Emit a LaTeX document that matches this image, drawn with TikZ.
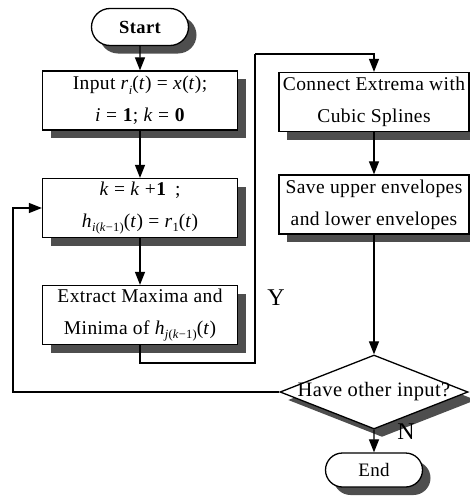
\documentclass[tikz,border=0pt]{standalone}
\usepackage{fontspec}
\setmainfont{Liberation Serif}[LetterSpace=2]
\usetikzlibrary{shapes.geometric,shapes.misc,shadows,arrows.meta}

\definecolor{shade}{RGB}{78,78,78}
\newcommand{\vi}[1]{\textit{#1}}
\newcommand{\sub}[1]{\raisebox{-0.5ex}{\fontsize{12.5}{12.5}\selectfont #1}}

\tikzset{
  shadowed/.style={drop shadow={shadow xshift=8pt, shadow yshift=-8pt, fill=shade, opacity=1}},
  procbox/.style={draw, line width=1.3pt, fill=white, shadowed, rectangle,
    minimum width=195pt, minimum height=59pt, inner sep=0pt, align=center,
    font=\fontsize{19.5}{32}\selectfont},
  termbox/.style={draw, line width=1.3pt, fill=white, shadowed, rounded rectangle,
    minimum width=97pt, minimum height=37pt, inner sep=0pt},
  decbox/.style={draw, line width=1.3pt, fill=white, shadowed, diamond,
    minimum width=188pt, minimum height=74pt, inner sep=0pt,
    font=\fontsize{20.5}{24}\selectfont},
  flow/.style={line width=1.2pt, -{Triangle[length=13pt,width=10pt]}},
  wire/.style={line width=1.2pt},
  tag/.style={font=\fontsize{24}{24}\selectfont, inner sep=0pt}
}

\begin{document}
\begin{tikzpicture}[x=1pt,y=-1pt]
\useasboundingbox (0,0) rectangle (470,498);

% left column
\node[termbox, font=\fontsize{18.5}{20}\selectfont\bfseries] (start) at (140,27) {Start};
\node[procbox] (input) at (140,100.5)
  {Input \vi{r}\sub{\vi{i}}(\vi{t}) = \vi{x}(\vi{t});\\ \vi{i} = \textbf{1}; \vi{k} = \textbf{0}};
\node[procbox] (update) at (140,208)
  {\vi{k} = \vi{k} +\textbf{1} \,;\\ \vi{h}\sub{\vi{i}(\vi{k}−1)}(\vi{t}) = \vi{r}\sub{1}(\vi{t})};
\node[procbox] (extract) at (140,315)
  {Extract Maxima and\\ Minima of \vi{h}\sub{\vi{j}(\vi{k}−1)}(\vi{t})};

% right column
\node[procbox, minimum width=190pt] (connect) at (374,102)
  {Connect Extrema with\\ Cubic Splines};
\node[procbox, minimum width=190pt] (save) at (374,204.5)
  {Save upper envelopes\\ and lower envelopes};
\node[decbox] (decide) at (374,392) {\makebox[0pt]{Have other input?}};
\node[termbox, minimum height=34pt, font=\fontsize{19}{20}\selectfont] (stop) at (374,470) {End};

% branch labels
\node[tag] (yes) at (276,298) {Y};
\node[tag] (no) at (406,432) {N};

% helper corners of the routed lines
\coordinate (loopA) at (255,363);
\coordinate (loopB) at (255,54);
\coordinate (backA) at (13,208);

% connectors
\draw[flow] (start) -- (input);
\draw[flow] (input) -- (update);
\draw[flow] (update) -- (extract);
\draw[wire] (extract.south) |- (loopA) -- (loopB);
\draw[flow] (loopB) -| (connect.north);
\draw[flow] (connect) -- (save);
\draw[flow] (save) -- (decide.north);
\draw[flow] (decide.south) -- (stop);
\draw[flow] (decide.west) -| (backA) -- (update.west);
\end{tikzpicture}
\end{document}
